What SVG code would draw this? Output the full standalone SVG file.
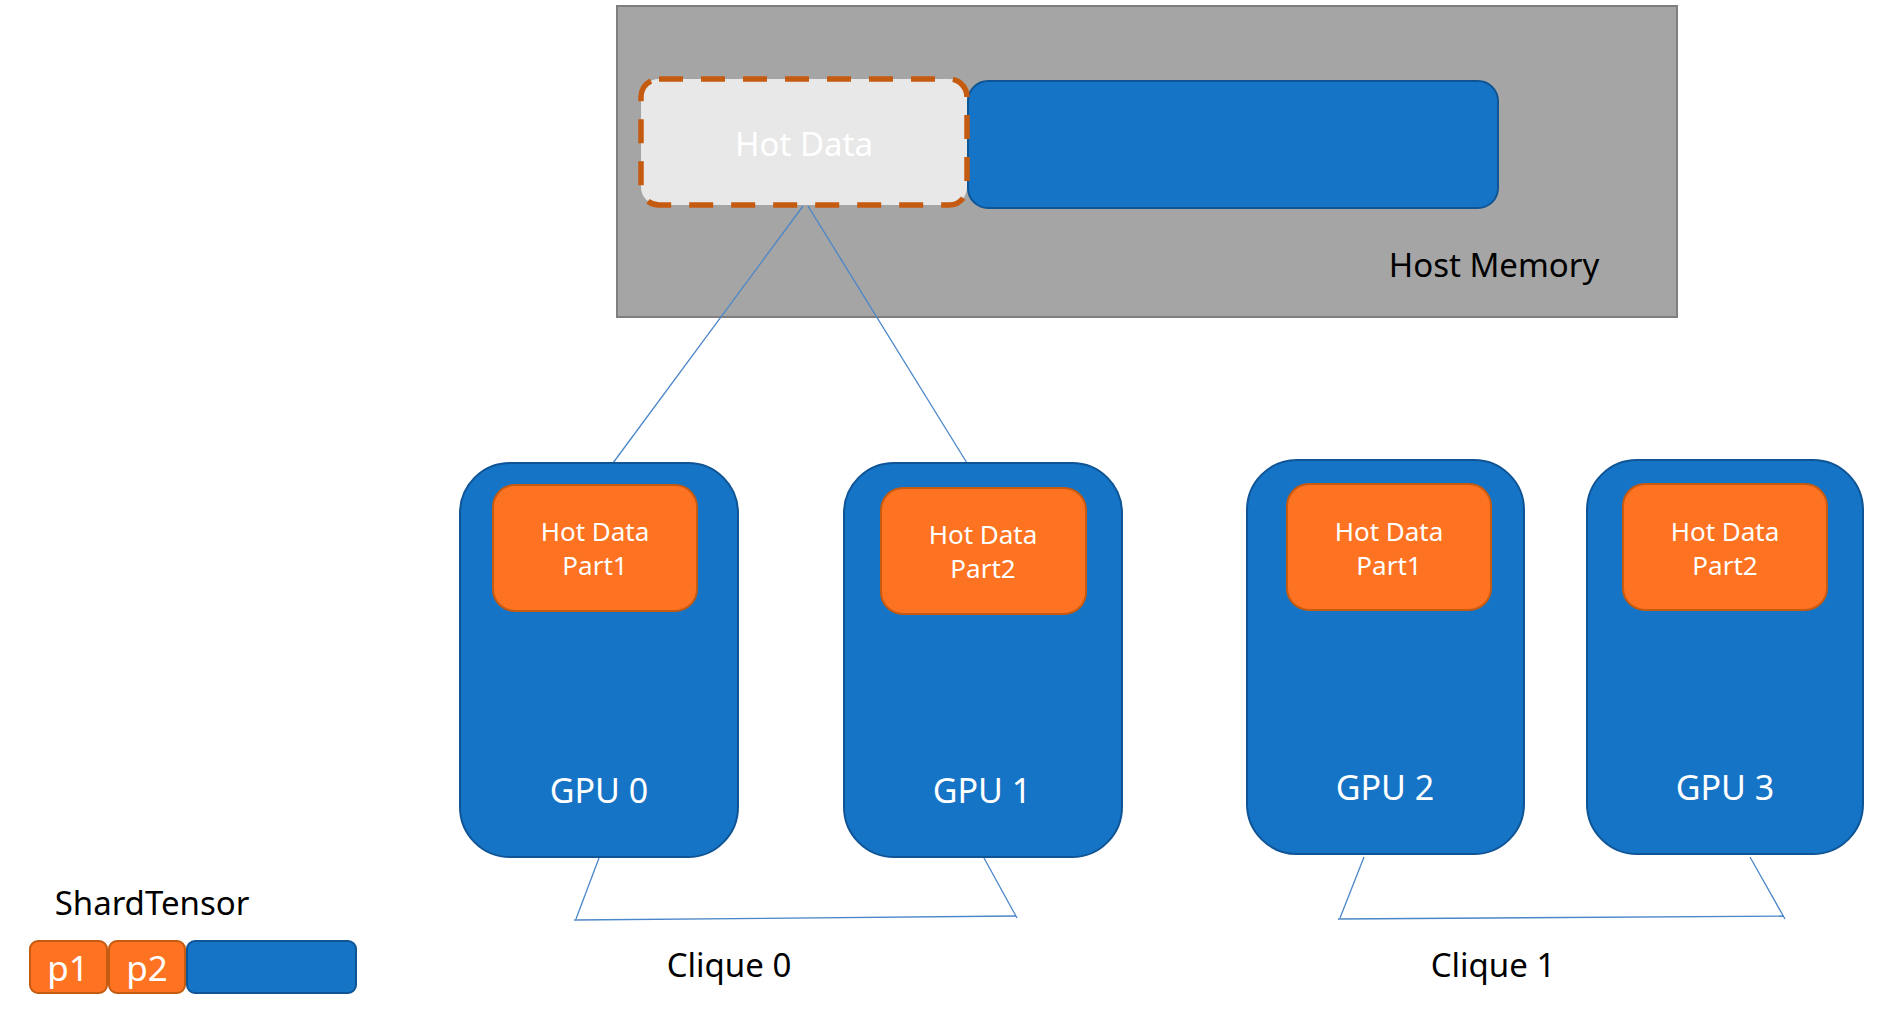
<svg xmlns="http://www.w3.org/2000/svg" width="1895" height="1009" viewBox="0 0 1895 1009">
<style>
text{font-family:"Noto Sans","Open Sans","Liberation Sans",sans-serif;text-anchor:middle}
.lbl{font-size:33px;fill:#000}
.wt{fill:#fff}
.gpu{fill:#1674C6;stroke:#0F5596;stroke-width:2}
.part{fill:#FE7322;stroke:#C55A11;stroke-width:2}
.conn{stroke:#4A86C8;stroke-width:1.3;fill:none}
</style>
<rect width="1895" height="1009" fill="#fff"/>
<g id="host-memory">
<rect x="617" y="6" width="1060" height="311" fill="#A5A5A5" stroke="#7F7F7F" stroke-width="2"/>
<text class="lbl" x="1494" y="277">Host Memory</text>
</g>
<g id="host-blue">
<rect x="968" y="81" width="530" height="127" rx="20" class="gpu"/>
</g>
<g id="hot-data">
<rect x="641" y="79" width="326" height="126" rx="18" fill="#E8E8E8" stroke="#C55A11" stroke-width="5.5" stroke-dasharray="24 18"/>
<text class="wt" x="804" y="156" font-size="33">Hot Data</text>
</g>
<g id="connectors">
<path class="conn" d="M803,206 L613,463"/>
<path class="conn" d="M808,206 L967,463"/>
<path class="conn" d="M599,858 L576,919"/>
<path class="conn" d="M574,920 L1016,916"/>
<path class="conn" d="M984,858 L1017,918"/>
<path class="conn" d="M1364,857 L1340,918"/>
<path class="conn" d="M1338,919 L1784,916"/>
<path class="conn" d="M1750,857 L1785,919"/>
</g>
<g id="gpu0">
<rect x="460" y="463" width="278" height="394" rx="50" class="gpu"/>
<rect x="493" y="485" width="204" height="126" rx="22" class="part"/>
<text class="wt" x="595" y="541" font-size="26">Hot Data</text>
<text class="wt" x="595" y="575" font-size="26">Part1</text>
<text class="wt" x="599" y="803" font-size="34">GPU 0</text>
</g>
<g id="gpu1">
<rect x="844" y="463" width="278" height="394" rx="50" class="gpu"/>
<rect x="881" y="488" width="205" height="126" rx="22" class="part"/>
<text class="wt" x="983" y="544" font-size="26">Hot Data</text>
<text class="wt" x="983" y="578" font-size="26">Part2</text>
<text class="wt" x="982" y="803" font-size="34">GPU 1</text>
</g>
<g id="gpu2">
<rect x="1247" y="460" width="277" height="394" rx="50" class="gpu"/>
<rect x="1287" y="484" width="204" height="126" rx="22" class="part"/>
<text class="wt" x="1389" y="541" font-size="26">Hot Data</text>
<text class="wt" x="1389" y="575" font-size="26">Part1</text>
<text class="wt" x="1385" y="800" font-size="34">GPU 2</text>
</g>
<g id="gpu3">
<rect x="1587" y="460" width="276" height="394" rx="50" class="gpu"/>
<rect x="1623" y="484" width="204" height="126" rx="22" class="part"/>
<text class="wt" x="1725" y="541" font-size="26">Hot Data</text>
<text class="wt" x="1725" y="575" font-size="26">Part2</text>
<text class="wt" x="1725" y="800" font-size="34">GPU 3</text>
</g>
<g id="clique0"><text class="lbl" x="729" y="977">Clique 0</text></g>
<g id="clique1"><text class="lbl" x="1493" y="977">Clique 1</text></g>
<g id="shard-tensor">
<text class="lbl" x="152" y="915">ShardTensor</text>
<rect x="30" y="941" width="77" height="52" rx="8" class="part"/>
<rect x="109" y="941" width="76" height="52" rx="8" class="part"/>
<rect x="187" y="941" width="169" height="52" rx="8" class="gpu"/>
<text class="wt" x="68" y="981" font-size="35">p1</text>
<text class="wt" x="147" y="981" font-size="35">p2</text>
</g>
</svg>
